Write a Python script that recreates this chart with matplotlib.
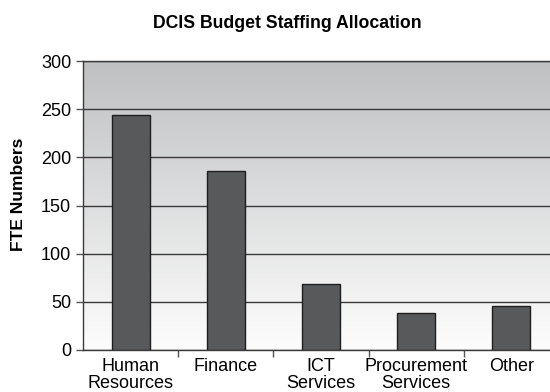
import numpy as np
import matplotlib
matplotlib.use("Agg")
import matplotlib.pyplot as plt
from matplotlib.colors import LinearSegmentedColormap

# staffing numbers per area
categories = ["Human\nResources", "Finance", "ICT\nServices", "Procurement\nServices", "Other"]
fte = [244, 186, 68, 38, 46]
yticks = [0, 50, 100, 150, 200, 250, 300]

plt.rcParams["font.family"] = ["Liberation Sans", "DejaVu Sans"]

fig = plt.figure(figsize=(5.5, 3.92), dpi=100)
ax = fig.add_axes([83 / 550, 42 / 392, 476 / 550, 289 / 392])

# grey-to-white fill behind the bars
grad = np.linspace(0, 1, 256).reshape(-1, 1)
cmap = LinearSegmentedColormap.from_list("bg", ["#fdfdfd", "#bfc0c2"])
ax.imshow(grad, cmap=cmap, aspect="auto", origin="lower",
          extent=[0, 1, 0, 1], transform=ax.transAxes, zorder=0)

x = np.arange(len(categories))
ax.bar(x, fte, width=0.4, color="#58595b", edgecolor="#1e1e1e",
       linewidth=1.0, zorder=3)

ax.set_xlim(-0.5, len(categories) - 0.5)
ax.set_ylim(0, 300)
ax.set_yticks(yticks)
ax.yaxis.grid(True, color="#3a3a3a", linewidth=1.0, zorder=1)
ax.set_axisbelow(True)

# category labels in the middle, tick marks between categories
ax.set_xticks(x)
ax.set_xticklabels(categories, fontsize=13, linespacing=0.98)
ax.tick_params(axis="x", which="major", length=0, pad=6)
ax.set_xticks(np.arange(0.5, len(categories) - 0.5, 1.0), minor=True)
ax.tick_params(axis="x", which="minor", length=5, color="#555555", width=1)
ax.tick_params(axis="y", labelsize=13, length=5, width=1, color="#555555", pad=3.5)

for side in ["top", "left", "bottom"]:
    ax.spines[side].set_color("#3a3a3a")
    ax.spines[side].set_linewidth(1.0)
ax.spines["right"].set_visible(False)

fig.text(287 / 550, 1 - 24 / 392, "DCIS Budget Staffing Allocation",
         ha="center", va="center", fontsize=12.7, fontweight="bold")
fig.text(19 / 550, 1 - 194 / 392, "FTE Numbers", rotation=90,
         ha="center", va="center", fontsize=12.5, fontweight="bold")

fig.savefig("out.png", dpi=100)
